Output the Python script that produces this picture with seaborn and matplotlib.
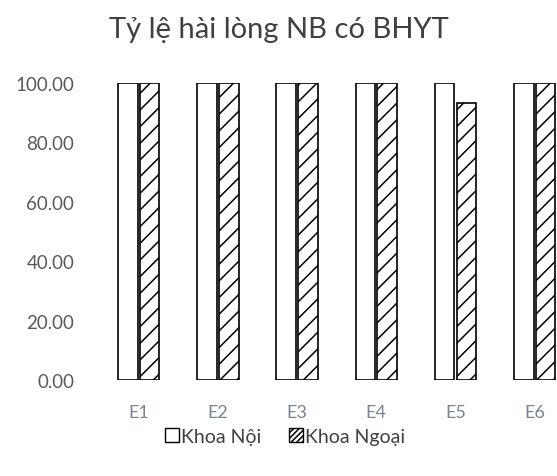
import matplotlib
matplotlib.use("Agg")
import matplotlib.pyplot as plt
from matplotlib.patches import Patch
import seaborn as sns
import pandas as pd

# values
categories = ["E1", "E2", "E3", "E4", "E5", "E6"]
khoa_noi = [100, 100, 100, 100, 100, 100]
khoa_ngoai = [100, 100, 100, 100, 93.33, 100]
series = ["Khoa Nội", "Khoa Ngoại"]

df = pd.DataFrame({
    "cat": categories * 2,
    "val": khoa_noi + khoa_ngoai,
    "series": [series[0]] * 6 + [series[1]] * 6,
})

sns.set_theme(style="white")
plt.rcParams["font.family"] = ["Lato", "DejaVu Sans"]
plt.rcParams["hatch.linewidth"] = 1.1

fig = plt.figure(figsize=(5.57, 4.77), dpi=100)
ax = fig.add_axes([0.178, 0.201, 0.853, 0.623])

sns.barplot(data=df, x="cat", y="val", hue="series", ax=ax,
            palette=["white", "white"], width=0.55, gap=0.1,
            edgecolor="black", linewidth=1.2, legend=False)

n = len(categories)
for i, bar in enumerate(ax.patches[:2 * n]):
    if i >= n:
        bar.set_hatch("//")

ax.set_ylim(0, 100)
ax.set_yticks([0, 20, 40, 60, 80, 100])
ax.set_yticklabels([f"{v:.2f}" for v in [0, 20, 40, 60, 80, 100]],
                   fontsize=13.5, color="#5a5a5a")
ax.tick_params(axis="x", labelsize=13, labelcolor="#7a8296", pad=11)
ax.tick_params(axis="y", pad=12)
ax.set_xlabel("")
ax.set_ylabel("")
for s in ax.spines.values():
    s.set_visible(False)

fig.suptitle("Tỷ lệ hài lòng NB có BHYT", x=0.5, y=0.965, fontsize=21,
             color="#404040")

handles = [Patch(facecolor="white", edgecolor="black", label=series[0]),
           Patch(facecolor="white", edgecolor="black", hatch="//////", label=series[1])]
fig.legend(handles=handles, loc="center", bbox_to_anchor=(0.512, 0.083),
           ncol=2, frameon=False, fontsize=14, handlelength=0.75,
           handleheight=0.75, handletextpad=0.1, columnspacing=1.4,
           labelcolor="#404040")

fig.savefig("out.png", dpi=100)
